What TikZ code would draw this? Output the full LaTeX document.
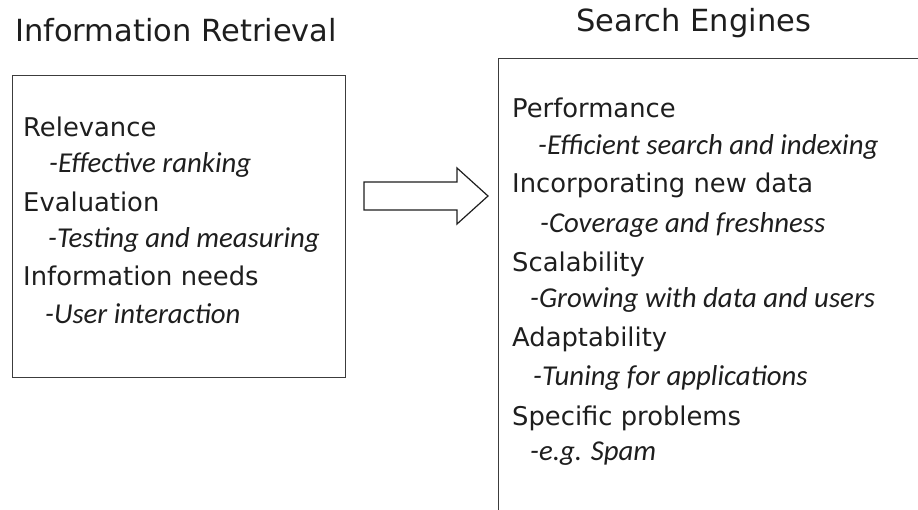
\documentclass[tikz,border=0pt]{standalone}
\usepackage{fontspec}
\setmainfont{DejaVu Sans}
\newfontfamily\notefont{Carlito}
\usepackage{tikz}
\usetikzlibrary{positioning}
\definecolor{inkgray}{HTML}{1E1E1E}
\definecolor{framegray}{HTML}{3C3C3C}
\tikzstyle{title} = [anchor=base west, inner sep=0pt, text=inkgray, font=\fontsize{30.5}{36}\selectfont]
\tikzstyle{topic} = [anchor=base west, inner sep=0pt, text=inkgray, font=\fontsize{25.8}{30}\selectfont]
\tikzstyle{note} = [anchor=base west, inner sep=0pt, text=inkgray, font=\notefont\itshape\fontsize{28.8}{33}\selectfont]
\tikzstyle{frame} = [rectangle, draw=framegray, line width=1.4pt, anchor=north west, inner sep=0pt]
\tikzstyle{blockarrow} = [draw=inkgray, line width=1.2pt, fill=white, line join=miter]

\begin{document}
\begin{tikzpicture}[x=1pt, y=-1pt]
    \useasboundingbox (0,0) rectangle (918,510);
    \clip (0,0) rectangle (918,510);
    % titles
    \node (IrTitle) [title] at (15,42) {Information Retrieval};
    \node (SeTitle) [title] at (576,32) {Search Engines};
    % boxes
    \node (IrBox) [frame, minimum width=333pt, minimum height=302pt] at (12,75) {};
    \node (SeBox) [frame, minimum width=460pt, minimum height=500pt] at (498,58) {};
    % left box text
    \node (Relevance) [topic] at (23,137) {Relevance};
    \node (Ranking) [note] at (49,173) {-Effective ranking};
    \node (Evaluation) [topic] at (23,212) {Evaluation};
    \node (Testing) [note] at (48,248) {-Testing and measuring};
    \node (Needs) [topic] at (23,286) {Information needs};
    \node (Interaction) [note] at (45,324) {-User interaction};
    % right box text
    \node (Performance) [topic] at (512,118) {Performance};
    \node (Indexing) [note] at (538,155) {-Efficient search and indexing};
    \node (NewData) [topic] at (512,193) {Incorporating new data};
    \node (Coverage) [note] at (540,233) {-Coverage and freshness};
    \node (Scalability) [topic] at (512,272) {Scalability};
    \node (Growing) [note] at (530,308) {-Growing with data and users};
    \node (Adaptability) [topic] at (512,347) {Adaptability};
    \node (Tuning) [note] at (533,385) {-Tuning for applications};
    \node (Specific) [topic] at (512,425) {Specific problems};
    \node (Spam) [note] at (530,460) {-e.g. Spam};
    % block arrow between the boxes
    \draw [blockarrow] (364,182) -- (457,182) -- (457,168) -- (488,196) -- (457,224) -- (457,210) -- (364,210) -- cycle;
\end{tikzpicture}
\end{document}
